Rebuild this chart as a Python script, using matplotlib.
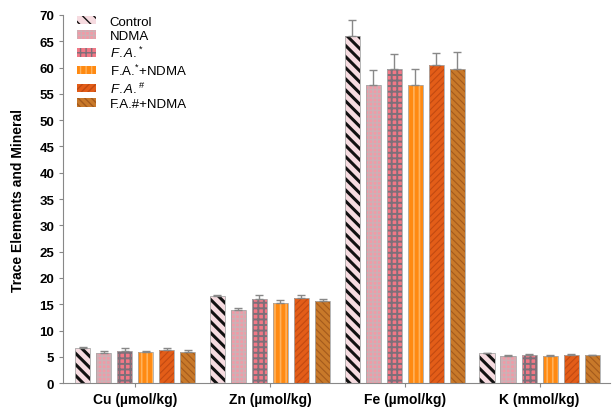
import matplotlib
matplotlib.use("Agg")
import matplotlib.pyplot as plt
import numpy as np

plt.rcParams["font.family"] = ["Liberation Sans", "DejaVu Sans"]
plt.rcParams["mathtext.fontset"] = "custom"
plt.rcParams["mathtext.rm"] = "Liberation Sans"
plt.rcParams["mathtext.it"] = "Liberation Sans:italic"

# data
categories = ["Cu (µmol/kg)", "Zn (µmol/kg)", "Fe (µmol/kg)", "K (mmol/kg)"]
groups = ["Control", "NDMA", r"$\it{F.A.}^{*}$", r"F.A.$^{*}$+NDMA",
          r"$\it{F.A.}^{\#}$", "F.A.#+NDMA"]
control = [6.7, 16.5, 66.0, 5.7]
ndma = [5.8, 14.0, 56.7, 5.2]
fa_star = [6.2, 16.0, 59.8, 5.4]
fa_star_ndma = [5.9, 15.2, 56.7, 5.2]
fa_hash = [6.3, 16.2, 60.4, 5.4]
fa_hash_ndma = [6.0, 15.6, 59.8, 5.3]
values = [control, ndma, fa_star, fa_star_ndma, fa_hash, fa_hash_ndma]

err_control = [0.2, 0.3, 3.0, 0.1]
err_ndma = [0.3, 0.3, 2.8, 0.1]
err_fa_star = [0.4, 0.7, 2.7, 0.15]
err_fa_star_ndma = [0.3, 0.6, 3.0, 0.1]
err_fa_hash = [0.3, 0.5, 2.4, 0.1]
err_fa_hash_ndma = [0.3, 0.4, 3.2, 0.1]
errors = [err_control, err_ndma, err_fa_star, err_fa_star_ndma,
          err_fa_hash, err_fa_hash_ndma]

# face colour, hatch colour, hatch pattern, hatch linewidth
styles = [
    ("#f6dbe0", "#111111", "\\\\\\", 2.2),
    ("#f19aa6", "#cdb0b5", "++++", 1.1),
    ("#f27886", "#7d6f79", "+++", 1.4),
    ("#ff8a12", "#ffb25c", "|||", 1.2),
    ("#e35d18", "#c24a12", "/////", 0.8),
    ("#c8792a", "#a45a1c", "\\\\\\\\\\", 0.8),
]

fig = plt.figure(figsize=(6.14, 4.10), dpi=100)
ax = fig.add_axes([0.103, 0.063, 0.890, 0.898])

x = np.arange(len(categories))
step = 0.156
width = 0.112
offsets = (np.arange(len(groups)) - 2.5) * step

for vals, errs, lab, (fc, hc, hatch, hlw), off in zip(values, errors, groups, styles, offsets):
    with plt.rc_context({"hatch.linewidth": hlw}):
        bars = ax.bar(x + off, vals, width, color=fc, edgecolor=hc, hatch=hatch,
                      linewidth=0, label=lab, zorder=2)
    for b in bars:
        if hasattr(b, "set_hatch_linewidth"):
            b.set_hatch_linewidth(hlw)
    ax.bar(x + off, vals, width, fill=False, edgecolor="#aaaaaa",
           linewidth=0.6, zorder=3)
    ax.errorbar(x + off, vals, yerr=[np.zeros(len(errs)), errs], fmt="none",
                ecolor="#888888", elinewidth=1.0, capsize=3, capthick=1.0, zorder=4)

ax.set_xlim(-0.533, 3.52)
ax.set_ylim(0, 70)
ax.set_yticks(np.arange(0, 71, 5))
ax.set_xticks(x)
ax.set_xticklabels(categories, fontsize=10, fontweight="bold")
ax.tick_params(axis="y", labelsize=9.5, length=3, color="#888888")
ax.tick_params(axis="x", length=3, color="#888888", pad=3)
for t in ax.get_yticklabels():
    t.set_fontweight("bold")
ax.set_ylabel("Trace Elements and Mineral", fontsize=10, fontweight="bold",
              labelpad=10)

for s in ["top", "right"]:
    ax.spines[s].set_visible(False)
for s in ["left", "bottom"]:
    ax.spines[s].set_color("#888888")

ax.legend(loc="upper left", bbox_to_anchor=(0.01, 1.02), frameon=False,
          fontsize=9.5, handlelength=1.5, handleheight=0.6,
          labelspacing=0.2, handletextpad=1.0, borderaxespad=0.2)

fig.savefig("out.png", dpi=100)
